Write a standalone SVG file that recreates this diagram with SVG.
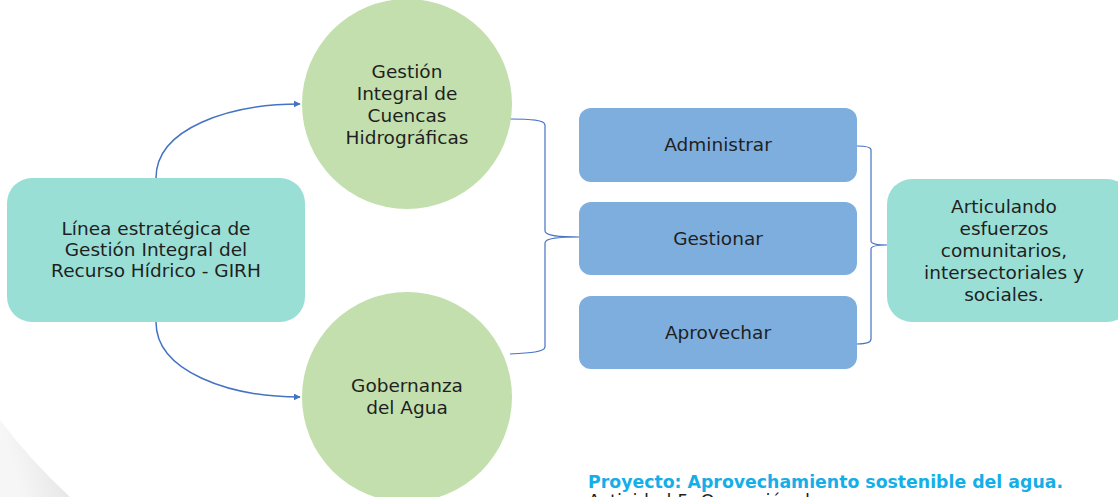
<svg xmlns="http://www.w3.org/2000/svg" width="1118" height="497" viewBox="0 0 1118 497">
<defs>
<style>
.t{font-family:"DejaVu Sans","Open Sans",sans-serif;font-size:18.5px;fill:#1f1f1f;text-anchor:middle}
.teal{fill:#9adfd5}
.green{fill:#c2dfad}
.blue{fill:#7eaedd}
.con{fill:none;stroke:#4472c4;stroke-width:1.5}
.br{fill:none;stroke:#4472c4;stroke-width:1.2}
.ft{font-family:"DejaVu Sans","Open Sans",sans-serif;font-size:18px}
</style>
<marker id="ah" viewBox="0 0 10 10" refX="9" refY="5" markerWidth="7" markerHeight="7" markerUnits="userSpaceOnUse" orient="auto">
<path d="M0,0 L10,5 L0,10 z" fill="#4472c4"/>
</marker>
<linearGradient id="curl" x1="0" y1="0" x2="1" y2="-0.3">
<stop offset="0" stop-color="#f4f4f4"/>
<stop offset="0.6" stop-color="#e2e2e2"/>
<stop offset="1" stop-color="#ffffff"/>
</linearGradient>
</defs>
<rect width="1118" height="497" fill="#ffffff"/>
<path d="M0,420 Q30,460 70,497 L0,497 z" fill="url(#curl)" opacity="0.8"/>

<g id="connectors">
<path class="con" d="M156,178 C156,128 230,104 300,104" marker-end="url(#ah)"/>
<path class="con" d="M156,322 C156,372 230,397 300,397" marker-end="url(#ah)"/>
<path class="br" d="M510,119 C530,119 545,120 545,125 L545,231 C545,236 560,237 580,237 C560,237 545,238 545,243 L545,347 C545,352 530,353 510,354"/>
<path class="br" d="M857,146 C866,146 871,147 871,150 L871,241 C871,244 878,245 887,245 C878,245 871,246 871,249 L871,339 C871,342 866,344 857,344"/>
</g>

<g id="n-girh">
<rect class="teal" x="7" y="178" width="298" height="144" rx="25"/>
<text class="t" x="156" y="235">Línea estratégica de</text>
<text class="t" x="156" y="256">Gestión Integral del</text>
<text class="t" x="156" y="277">Recurso Hídrico - GIRH</text>
</g>

<g id="n-cuencas">
<circle class="green" cx="407" cy="104" r="105"/>
<text class="t" x="407" y="78">Gestión</text>
<text class="t" x="407" y="100">Integral de</text>
<text class="t" x="407" y="122">Cuencas</text>
<text class="t" x="407" y="144">Hidrográficas</text>
</g>

<g id="n-gobernanza">
<circle class="green" cx="407" cy="397" r="105"/>
<text class="t" x="407" y="392">Gobernanza</text>
<text class="t" x="407" y="414">del Agua</text>
</g>

<g id="n-administrar">
<rect class="blue" x="579" y="108" width="278" height="74" rx="12"/>
<text class="t" x="718" y="151">Administrar</text>
</g>
<g id="n-gestionar">
<rect class="blue" x="579" y="202" width="278" height="73" rx="12"/>
<text class="t" x="718" y="245">Gestionar</text>
</g>
<g id="n-aprovechar">
<rect class="blue" x="579" y="296" width="278" height="73" rx="12"/>
<text class="t" x="718" y="339">Aprovechar</text>
</g>

<g id="n-articulando">
<rect class="teal" x="887" y="179" width="245" height="143" rx="25"/>
<text class="t" x="1004" y="213">Articulando</text>
<text class="t" x="1004" y="235">esfuerzos</text>
<text class="t" x="1004" y="257">comunitarios,</text>
<text class="t" x="1004" y="279">intersectoriales y</text>
<text class="t" x="1004" y="301">sociales.</text>
</g>

<g id="footer">
<text class="ft" x="588" y="488" textLength="475" lengthAdjust="spacingAndGlyphs" style="font-weight:bold;fill:#14aee8">Proyecto: Aprovechamiento sostenible del agua.</text>
<text class="ft" x="588" y="507" style="fill:#1f1f1f">Actividad 5: Operación de</text>
</g>
</svg>
